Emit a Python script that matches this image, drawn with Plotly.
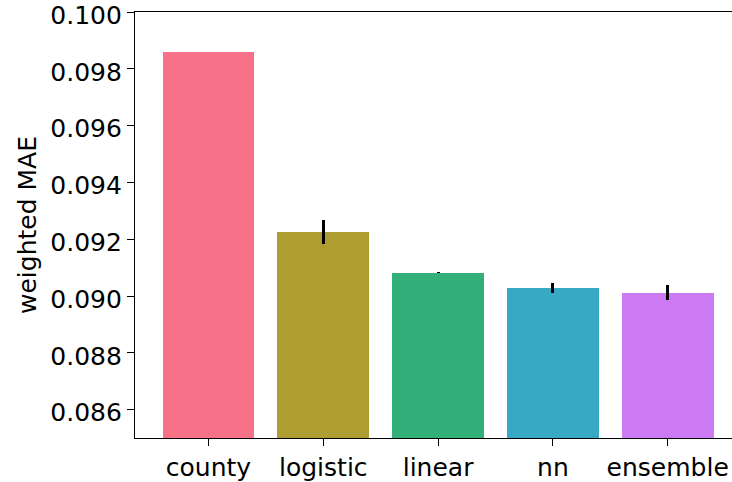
import plotly.graph_objects as go

# Model comparison: weighted mean absolute error with error bars
models = ["county", "logistic", "linear", "nn", "ensemble"]
mae = [0.09859, 0.09225, 0.09082, 0.09029, 0.09012]
mae_err = [0.00001, 0.00041, 0.00001, 0.00017, 0.00025]
colors = ["#f77189", "#ae9d31", "#33b07a", "#38a9c5", "#cc7af4"]

y_ticks = [0.086, 0.088, 0.090, 0.092, 0.094, 0.096, 0.098, 0.100]
y_tick_text = [f"{v:.3f}" for v in y_ticks]

font_family = "DejaVu Sans"
font_size = 25

fig = go.Figure(
    go.Bar(
        x=list(range(len(models))),
        y=mae,
        width=0.8,
        marker=dict(color=colors, line=dict(width=0)),
        error_y=dict(
            type="data",
            array=mae_err,
            symmetric=True,
            color="black",
            thickness=3,
            width=0,
        ),
    )
)

fig.update_layout(
    width=732,
    height=482,
    margin=dict(l=135, r=0, t=12, b=44),
    plot_bgcolor="white",
    paper_bgcolor="white",
    showlegend=False,
    font=dict(family=font_family, size=font_size, color="black"),
    bargap=0,
)

fig.update_xaxes(
    range=[-0.64, 4.56],
    tickmode="array",
    tickvals=list(range(len(models))),
    ticktext=models,
    ticks="outside",
    ticklen=7,
    tickwidth=1.2,
    tickcolor="black",
    showline=True,
    linecolor="black",
    linewidth=1.2,
    mirror=True,
    showgrid=False,
    zeroline=False,
    tickfont=dict(family=font_family, size=font_size, color="black"),
    ticklabeloverflow="allow",
    automargin=False,
)

fig.update_yaxes(
    range=[0.085, 0.1000001],
    tickmode="array",
    tickvals=y_ticks,
    ticktext=y_tick_text,
    ticks="outside",
    ticklen=7,
    tickwidth=1.2,
    tickcolor="black",
    showline=True,
    linecolor="black",
    linewidth=1.2,
    mirror=False,
    showgrid=False,
    zeroline=False,
    tickfont=dict(family=font_family, size=font_size, color="black"),
    ticklabeloverflow="allow",
    ticklabelshift=3,
    title=dict(text="weighted MAE", font=dict(family=font_family, size=font_size, color="black"), standoff=6),
    automargin=False,
)

fig.write_html("out.html")
